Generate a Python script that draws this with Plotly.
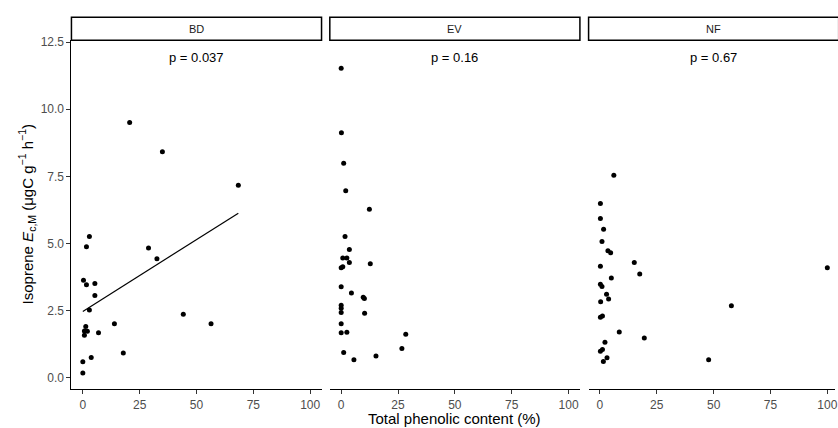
import numpy as np
import plotly.graph_objects as go

W, H = 838, 428

panels = ["BD", "EV", "NF"]
p_labels = ["p = 0.037", "p = 0.16", "p = 0.67"]

bd_x = [20.6, 35.0, 68.4, 2.9, 1.6, 28.9, 32.6, 0.3, 1.6, 5.3, 5.3, 2.9, 44.2, 56.4,
        13.9, 1.3, 0.7, 2.0, 0.7, 6.9, 17.8, 3.7, 0.0, 0.0]
bd_y = [9.51, 8.42, 7.17, 5.26, 4.88, 4.83, 4.43, 3.63, 3.46, 3.51, 3.06, 2.52, 2.36, 2.01,
        2.01, 1.91, 1.74, 1.73, 1.58, 1.67, 0.92, 0.75, 0.59, 0.17]

ev_x = [0.0, 0.1, 1.1, 2.0, 12.4, 1.7, 3.6, 0.7, 2.5, 3.6, 12.8, 0.0, 0.7, 0.0, 4.5, 9.7,
        10.2, 0.0, 0.0, 0.0, 10.3, 0.0, 0.0, 2.5, 28.4, 26.7, 1.1, 15.3, 5.6]
ev_y = [11.53, 9.12, 7.99, 6.96, 6.27, 5.26, 4.77, 4.46, 4.46, 4.29, 4.24, 4.09, 4.13, 3.39,
        3.15, 3.00, 2.95, 2.70, 2.59, 2.43, 2.40, 2.01, 1.67, 1.69, 1.62, 1.09, 0.94, 0.81, 0.67]

nf_x = [6.1, 0.2, 0.2, 1.6, 0.9, 3.5, 4.7, 15.1, 100.0, 0.2, 17.5, 5.0, 0.2, 0.9, 2.9, 3.8,
        0.3, 57.8, 0.2, 1.1, 8.5, 19.5, 2.2, 0.2, 1.1, 3.1, 1.5, 47.8]
nf_y = [7.54, 6.49, 5.93, 5.53, 5.07, 4.73, 4.65, 4.29, 4.09, 4.15, 3.86, 3.71, 3.48, 3.40,
        3.11, 2.93, 2.83, 2.68, 2.25, 2.30, 1.70, 1.48, 1.32, 0.98, 1.05, 0.74, 0.60, 0.67]

x_ticks = [0, 25, 50, 75, 100]
y_ticks = [0.0, 2.5, 5.0, 7.5, 10.0, 12.5]
y_tick_text = ["0.0", "2.5", "5.0", "7.5", "10.0", "12.5"]

FONT = "Liberation Sans, Arial, sans-serif"

# panel geometry in pixels
left_px = [71.7, 331.0, 590.7]
pw = 251.0
top_px, bot_px = 35.7, 389.0
strip_top = 12.3

def px_x(p):
    return p / W

def px_y(p):
    return (H - p) / H

fig = go.Figure()

data = [(bd_x, bd_y), (ev_x, ev_y), (nf_x, nf_y)]
for i, (xs, ys) in enumerate(data):
    xa = "x" if i == 0 else f"x{i+1}"
    fig.add_trace(go.Scatter(x=xs, y=ys, mode="markers", xaxis=xa, yaxis="y",
                             marker=dict(color="black", size=5, line=dict(width=0)),
                             showlegend=False, hoverinfo="skip", cliponaxis=False))

# regression line for BD
coef = np.polyfit(bd_x, bd_y, 1)
lx = np.array([min(bd_x), max(bd_x)])
fig.add_trace(go.Scatter(x=lx, y=np.polyval(coef, lx), mode="lines", xaxis="x", yaxis="y",
                         line=dict(color="black", width=1.2), showlegend=False, hoverinfo="skip"))

xrng = [-5, 105]
ydom = [px_y(bot_px), px_y(top_px)]
axis_common = dict(showgrid=False, zeroline=False, showline=True, linecolor="black", linewidth=1,
                   ticks="outside", ticklen=4, tickcolor="#333333", tickwidth=1,
                   tickfont=dict(family=FONT, size=12, color="#4D4D4D"),
                   tickvals=x_ticks, ticktext=[str(t) for t in x_ticks], anchor="y",
                   ticklabeloverflow="allow")
layout = dict(width=W, height=H, margin=dict(l=0, r=0, t=0, b=0),
              plot_bgcolor="white", paper_bgcolor="white", font=dict(family=FONT))
for i in range(3):
    key = "xaxis" if i == 0 else f"xaxis{i+1}"
    l = left_px[i]
    r = min(l + pw, W)
    rng_hi = xrng[0] + (r - l) / pw * (xrng[1] - xrng[0])
    d = dict(axis_common)
    d["domain"] = [px_x(l), px_x(r)]
    d["range"] = [xrng[0], rng_hi]
    layout[key] = d
layout["yaxis"] = dict(domain=ydom, range=[-0.44, 12.57], showgrid=False, zeroline=False,
                       showline=True, linecolor="black", linewidth=1, ticks="outside",
                       ticklen=4, tickcolor="#333333", tickvals=y_ticks, ticktext=y_tick_text,
                       tickfont=dict(family=FONT, size=12, color="#4D4D4D"), anchor="x")
fig.update_layout(**layout)

shapes = []
annotations = []
for i, name in enumerate(panels):
    l = left_px[i]
    r = l + pw
    shapes.append(dict(type="rect", xref="paper", yref="paper",
                       x0=px_x(l), x1=px_x(r), y0=px_y(top_px), y1=px_y(strip_top),
                       line=dict(color="black", width=1.5), fillcolor="white", layer="above"))
    annotations.append(dict(text=name, xref="paper", yref="paper", x=px_x(l + pw / 2),
                            y=px_y((top_px + strip_top) / 2), showarrow=False,
                            font=dict(family=FONT, size=11, color="#1A1A1A"),
                            xanchor="center", yanchor="middle"))
    annotations.append(dict(text=p_labels[i], xref="paper", yref="paper", x=px_x(l + pw / 2),
                            y=px_y(53), showarrow=False,
                            font=dict(family=FONT, size=13, color="black"),
                            xanchor="center", yanchor="middle"))

annotations.append(dict(text="Total phenolic content (%)", xref="paper", yref="paper",
                        x=px_x(456.5), y=px_y(418), showarrow=False,
                        font=dict(family=FONT, size=15, color="black"),
                        xanchor="center", yanchor="middle"))
annotations.append(dict(text="Isoprene <i>E</i><sub>c,M</sub> (μgC g<sup>−1</sup> h<sup>−1</sup>)",
                        xref="paper", yref="paper", x=px_x(27), y=px_y(212), textangle=-90,
                        showarrow=False, font=dict(family=FONT, size=15, color="black"),
                        xanchor="center", yanchor="middle"))

fig.update_layout(shapes=shapes, annotations=annotations)
fig.write_html("out.html", config={"displayModeBar": False},
               post_script="document.body.style.margin='0';document.body.style.padding='0';")
